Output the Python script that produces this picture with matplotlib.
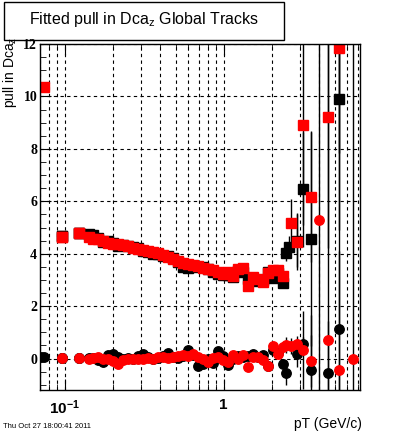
import matplotlib
matplotlib.use('Agg')
import matplotlib.pyplot as plt
from matplotlib.patches import Rectangle
from matplotlib.ticker import MultipleLocator, LogLocator, NullFormatter

plt.rcParams['font.family'] = ['Liberation Sans', 'DejaVu Sans']
plt.rcParams['mathtext.default'] = 'regular'

# common pT bins (GeV/c)
pt = [0.096, 0.124, 0.142, 0.151, 0.163, 0.175, 0.188, 0.202, 0.217, 0.233,
      0.251, 0.270, 0.290, 0.311, 0.335, 0.360, 0.387, 0.416, 0.447, 0.481,
      0.516, 0.555, 0.597, 0.641, 0.689, 0.741, 0.796, 0.856, 0.920, 0.989,
      1.06, 1.14, 1.23, 1.32, 1.42, 1.52, 1.64, 1.76, 1.89, 2.03, 2.19, 2.35]

# sigma of pull (squares)
sig_black = [4.66, 4.78, 4.76, 4.72, 4.60, 4.45, 4.50, 4.40, 4.30, 4.35,
             4.28, 4.25, 4.20, 4.10, 4.05, 4.00, 3.98, 3.92, 3.90, 3.85,
             3.70, 3.50, 3.45, 3.55, 3.50, 3.48, 3.40, 3.32, 3.22, 3.20,
             3.20, 3.10, 3.35, 3.30, 3.05, 3.05, 2.95, 3.00, 3.30, 3.07,
             3.27, 2.88]
sig_red = [4.64, 4.79, 4.62, 4.58, 4.55, 4.50, 4.40, 4.37, 4.36, 4.33,
           4.30, 4.22, 4.18, 4.15, 4.10, 4.07, 4.02, 3.95, 3.88, 3.80,
           3.72, 3.66, 3.62, 3.58, 3.52, 3.47, 3.42, 3.36, 3.30, 3.24,
           3.30, 3.15, 3.40, 3.45, 2.76, 3.10, 3.02, 2.93, 3.25, 3.36,
           3.38, 3.15]

# mean of pull (circles)
mean_black = [0.03, 0.03, 0.02, 0.04, -0.05, -0.13, 0.15, 0.19, 0.05, 0.00,
              0.02, -0.02, 0.10, 0.19, 0.05, 0.00, 0.02, 0.10, 0.21, 0.05,
              0.02, 0.10, 0.32, 0.15, -0.30, -0.20, 0.00, -0.17, 0.28, 0.10,
              -0.26, 0.00, 0.10, 0.05, 0.10, 0.19, 0.06, 0.15, -0.28, 0.34,
              0.20, -0.20]
mean_red = [0.04, 0.04, 0.00, 0.02, 0.06, 0.00, -0.02, -0.10, -0.19, -0.05,
            0.00, -0.03, 0.00, -0.02, 0.02, 0.00, 0.05, 0.06, 0.04, 0.06,
            0.08, 0.13, 0.10, 0.19, 0.05, 0.00, -0.13, 0.02, 0.06, -0.07,
            -0.13, 0.12, 0.00, 0.15, -0.32, 0.06, 0.06, -0.04, -0.30, 0.47,
            0.19, 0.44]

# low pT extras
pt_low_red = [0.0746]
sig_low_red = [10.36]
pt_low_black = [0.0714, 0.0746]
mean_low_black = [0.07, 0.05]

# high pT tails with large errors
pt_sb_tail = [2.45, 2.56, 2.88, 3.15, 3.53, 5.30]
sb_tail = [4.04, 4.27, 4.50, 6.45, 4.56, 9.92]
sb_err = [0.3, 0.4, 1.0, 2.2, 4.1, 5.0]

pt_sr_tail = [2.66, 2.88, 3.15, 3.53, 4.52, 5.30]
sr_tail = [5.18, 4.46, 8.91, 6.17, 9.23, 11.84]
sr_err = [0.9, 1.1, 3.8, 2.5, 5.0, 4.0]

pt_mb_tail = [2.48, 2.88, 3.15, 3.53, 4.52, 5.30]
mb_tail = [-0.55, 0.19, 0.54, -0.45, -0.57, 1.11]
mb_err = [0.47, 0.5, 0.3, 2.1, 2.0, 3.0]

pt_mr_tail = [2.48, 2.66, 2.88, 3.15, 3.53, 3.97, 4.52, 5.30, 6.49]
mr_tail = [0.51, 0.47, 0.57, 0.32, -0.10, 5.27, 0.70, -0.42, -0.03]
mr_err = [0.3, 0.3, 0.3, 1.5, 1.0, 8.0, 12.0, 13.0, 13.0]

# x errors on first bins
pt_first = [0.096, 0.124]
pt_first_err = [0.007, 0.009]

fig = plt.figure(figsize=(4, 4.33), dpi=100)
ax = fig.add_axes([0.1, 0.0993, 0.8, 0.7990])

sq = dict(fmt='s', ms=7.3, capsize=0, elinewidth=1, lw=0, ecolor='k')
ci = dict(fmt='o', ms=6.8, capsize=0, elinewidth=1, lw=0, ecolor='k')

# black
ax.errorbar(pt, sig_black, color='k', **sq)
ax.errorbar(pt_first, sig_black[:2], xerr=pt_first_err, color='k', **sq)
ax.errorbar(pt_sb_tail, sb_tail, yerr=sb_err, color='k', **sq)
ax.errorbar(pt, mean_black, color='k', **ci)
ax.errorbar(pt_first, mean_black[:2], xerr=pt_first_err, color='k', **ci)
ax.errorbar(pt_low_black, mean_low_black, xerr=0.003, color='k', **ci)
ax.errorbar(pt_mb_tail, mb_tail, yerr=mb_err, color='k', **ci)

# red
ax.errorbar(pt, sig_red, color='red', **sq)
ax.errorbar(pt_first, sig_red[:2], xerr=pt_first_err, color='red', **sq)
ax.errorbar(pt_low_red, sig_low_red, color='red', **sq)
ax.errorbar(pt_sr_tail, sr_tail, yerr=sr_err, color='red', **sq)
ax.errorbar(pt, mean_red, color='red', **ci)
ax.errorbar(pt_mr_tail, mr_tail, yerr=mr_err, color='red', **ci)

ax.set_xscale('log')
ax.set_xlim(0.07, 7.2)
ax.set_ylim(-1.2, 12.0)

ax.set_xticks([0.1, 1])
ax.set_xticklabels(['$10^{-1}$', '1'], fontsize=11, fontweight='bold')
ax.xaxis.set_minor_locator(LogLocator(base=10, subs=range(2, 10)))
ax.xaxis.set_minor_formatter(NullFormatter())
ax.set_yticks(range(0, 13, 2))
ax.set_yticklabels([str(v) for v in range(0, 13, 2)], fontsize=10,
                   fontweight='bold', family='Liberation Serif')
ax.yaxis.set_minor_locator(MultipleLocator(0.5))

ax.tick_params(which='both', direction='in', top=True, right=False)
ax.tick_params(axis='y', which='major', length=8, pad=2)
ax.tick_params(axis='y', which='minor', length=4)
ax.tick_params(axis='x', which='major', length=8, pad=6)
ax.tick_params(axis='x', which='minor', length=4)

ax.grid(True, which='both', axis='x', color='k', ls=(0, (3, 3)), lw=0.8)
ax.grid(True, which='major', axis='y', color='k', ls=(0, (3, 3)), lw=0.8)
for s in ax.spines.values():
    s.set_linewidth(1)

# title box
fig.patches.append(Rectangle((0.01, 0.9076), 0.70, 0.088, transform=fig.transFigure,
                             fill=False, edgecolor='k', lw=1))
fig.text(0.36, 0.956, 'Fitted pull in Dca$_{z}$ Global Tracks', ha='center',
         va='center', fontsize=11.5)

fig.text(0.025, 0.915, 'pull in Dca$_{z}$', rotation=90, ha='center', va='top',
         fontsize=10)
fig.text(0.905, 0.021, 'pT (GeV/c)', ha='right', va='center', fontsize=10)
fig.text(0.008, 0.015, 'Thu Oct 27 18:00:41 2011', ha='left', va='center',
         fontsize=5.5)

fig.savefig('out.png', dpi=100)
